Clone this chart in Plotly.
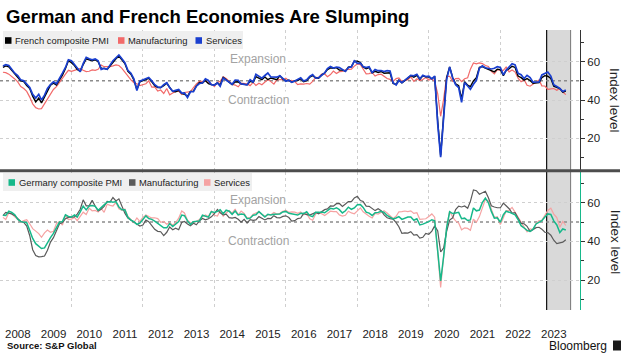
import pandas as pd
import plotly.graph_objects as go

# ---------------- data (monthly, Jan 2008 - Oct 2023) ----------------
dates = pd.date_range("2008-01-01", periods=190, freq="MS") + pd.offsets.MonthEnd(0)

france_composite = [
    57.0, 57.8, 57.3, 55.5, 53.5, 52.0, 50.0, 49.6, 47.5, 46.0, 42.0, 39.0,
    41.0, 38.5, 41.5, 45.0, 47.8, 48.8, 47.8, 50.5, 53.0, 56.5, 60.5, 59.5,
    58.0, 56.0, 55.0, 58.5, 61.5, 61.0, 60.5, 61.0, 60.0, 56.5, 56.5, 56.0,
    58.0, 60.0, 61.5, 63.0, 61.0, 59.0, 55.0, 53.5, 50.5, 45.5, 49.5, 50.0,
    50.5, 51.3, 49.5, 47.5, 46.5, 46.5, 47.5, 48.8, 46.5, 44.5, 44.3, 45.0,
    43.5, 43.0, 41.9, 44.5, 44.6, 47.4, 49.1, 48.9, 50.2, 48.5, 48.0, 47.9,
    48.9, 47.9, 51.8, 50.6, 49.3, 48.1, 49.4, 49.5, 48.4, 48.2, 47.9, 49.7,
    49.3, 52.2, 51.5, 50.6, 52.0, 50.6, 51.5, 51.2, 50.6, 52.6, 51.0, 50.1,
    50.3, 49.3, 50.0, 50.2, 51.1, 49.6, 50.1, 51.9, 52.7, 51.6, 51.4, 53.1,
    54.1, 55.9, 56.8, 56.6, 56.9, 55.6, 55.6, 55.1, 57.1, 57.4, 60.3, 60.3,
    59.6, 57.3, 56.3, 56.9, 54.2, 55.0, 54.4, 54.9, 54.0, 54.1, 54.2, 48.7,
    48.2, 50.4, 48.9, 50.1, 51.2, 52.7, 51.9, 52.9, 50.8, 52.6, 52.1, 52.0,
    51.1, 52.0, 28.9, 11.1, 32.1, 51.7, 57.3, 51.6, 48.5, 47.5, 40.6, 49.5,
    47.7, 47.0, 50.0, 51.6, 57.0, 57.4, 56.6, 55.9, 55.3, 54.7, 56.1, 55.8,
    52.7, 55.5, 56.3, 57.6, 57.0, 52.5, 51.7, 50.4, 51.2, 50.2, 48.7, 49.1,
    49.1, 51.7, 52.7, 52.4, 51.2, 47.2, 46.6, 46.0, 44.1, 44.6,
]
france_manufacturing = [
    54.5, 54.3, 53.5, 52.5, 51.0, 49.5, 47.0, 46.0, 44.5, 41.5, 38.0, 36.0,
    35.3, 35.5, 38.0, 41.0, 43.5, 45.5, 47.0, 49.0, 51.5, 53.5, 55.5, 55.0,
    55.5, 56.0, 56.5, 55.5, 54.8, 55.0, 55.7, 55.5, 56.0, 58.3, 57.4, 57.5,
    57.4, 57.8, 58.3, 58.0, 56.5, 54.5, 52.2, 50.5, 49.0, 48.5, 47.5, 48.0,
    48.5, 50.0, 46.7, 46.9, 44.7, 45.2, 43.4, 46.0, 42.7, 43.7, 44.5, 44.6,
    42.9, 43.9, 44.0, 44.4, 46.4, 48.4, 49.7, 49.7, 49.8, 49.1, 48.4, 47.0,
    49.3, 49.7, 52.1, 51.2, 49.6, 48.2, 47.8, 46.9, 48.8, 48.5, 48.4, 47.5,
    49.2, 47.6, 48.8, 48.0, 49.4, 50.7, 49.6, 48.3, 50.6, 50.6, 50.6, 51.4,
    50.0, 50.2, 49.6, 48.0, 48.4, 48.3, 48.6, 48.3, 49.7, 51.8, 51.7, 53.5,
    53.6, 52.2, 53.3, 55.1, 53.8, 54.8, 54.9, 55.8, 56.1, 56.1, 57.7, 58.8,
    58.4, 55.9, 53.7, 53.8, 54.4, 52.5, 53.3, 53.5, 52.5, 51.2, 50.8, 49.7,
    51.2, 51.5, 49.7, 50.0, 50.6, 52.0, 49.7, 51.1, 50.1, 50.7, 51.7, 50.4,
    51.1, 49.8, 43.2, 31.5, 40.6, 52.3, 52.4, 49.8, 51.2, 51.3, 49.6, 51.1,
    51.6, 56.1, 59.3, 58.9, 59.4, 59.0, 58.0, 57.5, 55.0, 53.6, 55.9, 55.6,
    55.5, 57.2, 54.7, 55.7, 54.6, 51.4, 49.5, 50.6, 47.7, 47.2, 48.3, 49.2,
    50.5, 47.4, 47.3, 45.6, 45.7, 46.0, 45.1, 46.0, 44.2, 42.8,
]
france_services = [
    57.8, 58.5, 58.0, 56.0, 54.0, 52.8, 50.5, 50.0, 48.0, 46.5, 43.0, 41.0,
    43.0, 40.0, 42.5, 46.0, 48.0, 49.5, 48.5, 51.0, 54.0, 57.0, 61.0, 60.5,
    58.5, 56.5, 54.8, 59.0, 62.3, 61.5, 61.0, 61.5, 60.5, 56.0, 56.5, 56.0,
    58.5, 60.5, 62.0, 63.5, 61.5, 59.5, 55.5, 54.0, 51.0, 45.0, 49.8, 50.5,
    51.0, 51.8, 50.0, 48.0, 46.8, 46.5, 48.0, 49.0, 46.5, 44.5, 45.0, 45.5,
    43.6, 43.7, 41.3, 44.3, 44.3, 47.2, 48.6, 48.9, 51.0, 50.2, 48.0, 47.8,
    48.9, 47.2, 51.5, 50.4, 49.1, 48.2, 50.4, 50.3, 48.4, 48.3, 47.9, 50.6,
    49.4, 53.4, 52.4, 51.4, 52.8, 54.1, 52.0, 51.9, 51.9, 52.7, 51.0, 49.8,
    50.3, 49.2, 49.9, 50.6, 51.6, 49.9, 50.5, 52.3, 53.3, 51.4, 51.6, 52.9,
    54.1, 56.4, 57.5, 56.7, 57.2, 56.9, 56.0, 54.9, 57.0, 57.3, 60.4, 59.1,
    59.2, 57.4, 56.9, 57.4, 54.3, 55.9, 55.3, 55.4, 54.8, 55.3, 55.1, 49.0,
    47.8, 50.2, 49.1, 50.5, 51.5, 52.9, 52.6, 53.4, 51.1, 52.9, 52.2, 52.4,
    51.0, 52.5, 27.4, 10.2, 31.1, 50.7, 57.3, 51.5, 48.0, 46.5, 38.8, 49.1,
    47.3, 45.6, 48.2, 50.3, 56.6, 57.8, 56.8, 56.3, 56.2, 56.6, 57.4, 57.0,
    53.1, 55.5, 57.4, 58.9, 58.3, 53.9, 53.2, 51.2, 52.9, 51.7, 49.3, 49.5,
    49.4, 53.1, 53.9, 54.6, 52.5, 48.0, 47.1, 46.0, 44.4, 45.2,
]
germany_composite = [
    53.5, 53.4, 55.6, 55.0, 53.8, 51.4, 50.2, 50.1, 49.7, 45.6, 41.5, 38.8,
    37.6, 36.3, 36.6, 39.6, 41.9, 44.1, 47.0, 50.0, 50.2, 53.7, 52.9, 52.6,
    53.7, 52.6, 55.3, 58.2, 56.3, 58.3, 58.5, 58.1, 56.1, 57.3, 58.9, 60.3,
    60.6, 60.3, 60.6, 57.8, 56.3, 56.3, 52.5, 51.0, 50.2, 48.8, 49.4, 51.3,
    53.2, 51.8, 51.4, 50.5, 49.3, 48.1, 47.0, 47.0, 49.2, 47.7, 49.2, 50.3,
    53.6, 53.3, 50.6, 48.8, 50.2, 50.4, 50.6, 53.5, 53.2, 52.5, 55.4, 55.0,
    55.5, 56.4, 54.3, 56.1, 55.6, 54.0, 55.7, 53.7, 54.1, 53.9, 51.7, 52.0,
    53.5, 53.8, 55.4, 54.1, 52.6, 54.0, 53.7, 54.0, 54.1, 54.2, 55.2, 55.5,
    54.5, 54.1, 54.0, 53.6, 54.5, 54.4, 55.3, 53.3, 52.8, 55.0, 55.0, 55.2,
    54.8, 56.1, 57.1, 56.7, 57.4, 56.4, 54.7, 55.8, 57.7, 56.6, 57.3, 58.9,
    59.0, 57.6, 55.1, 54.6, 53.4, 54.8, 55.0, 55.6, 55.0, 53.4, 52.3, 51.6,
    52.1, 52.8, 51.4, 52.2, 52.6, 52.6, 50.9, 51.7, 48.5, 48.9, 49.4, 50.2,
    51.2, 50.7, 35.0, 19.5, 32.3, 47.0, 55.3, 54.4, 54.7, 55.0, 51.7, 52.0,
    50.8, 51.1, 57.3, 55.8, 56.2, 60.1, 62.4, 60.0, 55.5, 52.0, 52.2, 49.9,
    53.8, 55.6, 55.1, 54.3, 53.7, 51.3, 48.1, 46.9, 45.7, 45.1, 46.3, 49.0,
    49.9, 50.7, 52.6, 54.2, 53.9, 50.6, 48.5, 44.6, 46.4, 45.9,
]
germany_manufacturing = [
    53.3, 55.0, 54.6, 54.2, 53.3, 51.6, 50.3, 49.8, 47.9, 42.9, 35.7, 32.7,
    32.0, 32.1, 32.4, 35.4, 39.6, 41.9, 46.0, 49.1, 49.6, 51.7, 52.4, 52.7,
    52.7, 54.1, 56.6, 61.5, 58.4, 58.4, 61.2, 58.2, 55.7, 56.6, 58.1, 60.7,
    60.5, 62.7, 60.9, 62.0, 57.7, 54.6, 52.0, 50.9, 50.3, 49.1, 47.9, 48.4,
    51.0, 50.2, 48.4, 46.2, 45.2, 45.0, 43.0, 44.7, 47.4, 46.0, 46.8, 46.0,
    49.8, 50.3, 49.0, 48.1, 49.4, 48.6, 50.7, 51.8, 51.1, 51.7, 52.7, 54.3,
    56.5, 54.8, 53.7, 54.1, 52.3, 52.0, 52.4, 51.4, 49.9, 51.4, 49.5, 51.2,
    50.9, 51.1, 52.8, 52.1, 51.1, 51.9, 51.8, 53.3, 52.3, 52.1, 52.9, 53.2,
    52.3, 50.5, 50.7, 51.8, 52.1, 54.5, 53.8, 53.6, 54.3, 55.0, 54.3, 55.6,
    56.4, 56.8, 58.3, 58.2, 59.5, 59.6, 58.1, 59.3, 60.6, 60.6, 62.5, 63.3,
    61.1, 60.6, 58.2, 58.1, 56.9, 55.9, 56.9, 55.9, 53.7, 52.2, 51.8, 51.5,
    49.7, 47.6, 44.1, 44.4, 44.3, 45.0, 43.2, 43.5, 41.7, 42.1, 44.1, 43.7,
    45.3, 48.0, 45.4, 34.5, 36.6, 45.2, 51.0, 52.2, 56.4, 58.2, 57.8, 58.3,
    57.1, 60.7, 66.6, 66.2, 64.4, 65.1, 65.9, 62.6, 58.4, 57.8, 57.4, 57.4,
    59.8, 58.4, 56.9, 54.6, 54.8, 52.0, 49.3, 49.1, 47.8, 45.1, 46.2, 47.1,
    47.3, 46.3, 44.7, 44.5, 43.2, 40.6, 38.8, 39.1, 39.6, 40.8,
]
germany_services = [
    52.4, 51.3, 54.8, 54.2, 52.7, 51.6, 50.0, 50.7, 51.2, 49.1, 46.6, 45.3,
    44.0, 42.1, 44.4, 45.9, 44.7, 45.2, 49.2, 50.2, 48.4, 53.7, 51.3, 51.5,
    52.4, 50.7, 52.7, 55.1, 53.9, 57.1, 55.8, 56.0, 55.2, 57.0, 55.0, 59.2,
    58.6, 58.3, 60.1, 56.8, 56.1, 56.7, 52.9, 51.1, 49.7, 52.1, 50.3, 52.4,
    53.7, 52.8, 52.1, 52.2, 51.8, 49.9, 50.3, 48.9, 49.7, 48.4, 49.7, 52.0,
    55.7, 54.7, 50.9, 49.6, 49.7, 50.4, 51.3, 52.8, 53.7, 52.9, 55.7, 53.5,
    53.1, 55.9, 53.0, 54.7, 56.0, 54.6, 56.7, 53.7, 55.7, 54.4, 52.1, 52.1,
    54.0, 54.7, 55.4, 54.0, 53.0, 53.7, 53.8, 54.9, 54.1, 54.5, 55.6, 56.0,
    55.0, 55.3, 55.1, 54.5, 55.2, 53.7, 54.4, 51.7, 50.9, 54.2, 55.1, 54.3,
    53.4, 54.4, 55.6, 55.4, 55.4, 53.7, 53.1, 53.5, 55.6, 54.7, 54.3, 55.8,
    57.3, 55.3, 53.9, 53.0, 52.1, 54.5, 54.1, 55.0, 55.9, 54.7, 53.3, 51.8,
    53.0, 55.3, 55.4, 55.7, 55.4, 55.8, 54.5, 54.8, 51.4, 51.6, 51.7, 52.9,
    54.2, 52.5, 31.7, 16.2, 32.6, 47.3, 55.6, 52.5, 50.6, 49.5, 46.0, 47.0,
    46.7, 45.7, 51.5, 49.9, 52.8, 57.5, 61.8, 60.8, 56.2, 52.4, 52.7, 48.7,
    52.2, 55.8, 56.1, 57.6, 55.0, 52.4, 49.7, 47.7, 45.0, 46.5, 46.1, 49.2,
    50.7, 50.9, 53.7, 56.0, 57.2, 54.1, 52.3, 47.3, 50.3, 48.2,
]

years = list(range(2008, 2024))
year_labels = [str(y) for y in years]
y_ticks = [20, 40, 60]
shade_start, shade_end = "2023-04-18", "2023-12-19"

# ---------------- styling helpers ----------------
W, H = 634, 358
FONT = "Liberation Sans, Arial, sans-serif"
def px(x):
    return x / W
def py(y):
    return 1 - y / H

X_DOMAIN = [0, px(580)]
X_RANGE = ["2008-01-01", "2024-03-24"]
TOP = [py(170), py(30)]
BOT = [py(310), py(172)]
GRID = "#cfcfcf"
TEAL = "#17b88a"

fig = go.Figure()
# top panel (France)
fig.add_trace(go.Scatter(x=dates, y=france_manufacturing, name="Manufacturing", mode="lines",
                         line=dict(color="#f26a6a", width=1.2), xaxis="x", yaxis="y"))
fig.add_trace(go.Scatter(x=dates, y=france_composite, name="French composite PMI", mode="lines",
                         line=dict(color="#000000", width=1.4), xaxis="x", yaxis="y"))
fig.add_trace(go.Scatter(x=dates, y=france_services, name="Services", mode="lines",
                         line=dict(color="#1a3fcf", width=1.7), xaxis="x", yaxis="y"))
# bottom panel (Germany)
fig.add_trace(go.Scatter(x=dates, y=germany_services, name="Services", mode="lines",
                         line=dict(color="#f5a3a3", width=1.2), xaxis="x2", yaxis="y2"))
fig.add_trace(go.Scatter(x=dates, y=germany_manufacturing, name="Manufacturing", mode="lines",
                         line=dict(color="#5a5a5a", width=1.2), xaxis="x2", yaxis="y2"))
fig.add_trace(go.Scatter(x=dates, y=germany_composite, name="Germany composite PMI", mode="lines",
                         line=dict(color=TEAL, width=1.5), xaxis="x2", yaxis="y2"))

grid_dates = [f"{y}-01-01" for y in range(2010, 2024, 2)]
label_dates = [f"{y}-07-01" for y in years]

xcommon = dict(domain=X_DOMAIN, range=X_RANGE, type="date", showgrid=False, zeroline=False,
               minor=dict(tickmode="array", tickvals=grid_dates, showgrid=True, gridcolor=GRID,
                          griddash="dot", gridwidth=1, ticks=""))
ycommon = dict(side="right", tickmode="array", tickvals=y_ticks, showgrid=True, gridcolor=GRID,
               griddash="dot", gridwidth=1, zeroline=False, ticks="outside", ticklen=4,
               tickcolor="#333", showline=True, linewidth=1,
               tickfont=dict(family=FONT, size=11.5, color="#222"),
               minor=dict(tickmode="array", tickvals=[10, 30, 50, 70], ticks="outside",
                          ticklen=3, tickcolor="#333", showgrid=False))

fig.update_layout(
    width=W, height=H, margin=dict(l=0, r=0, t=0, b=0),
    paper_bgcolor="white", plot_bgcolor="white", showlegend=False,
    font=dict(family=FONT, color="#222"),
    xaxis=dict(xcommon, anchor="y", showticklabels=False, ticks=""),
    xaxis2=dict(xcommon, anchor="y2", tickmode="array", tickvals=label_dates, ticktext=year_labels,
                ticks="outside", ticklen=13, tickcolor="rgba(0,0,0,0)",
                tickfont=dict(family=FONT, size=11.5, color="#222")),
    yaxis=dict(ycommon, domain=TOP, anchor="x", range=[3.45, 76.55], linecolor="#333"),
    yaxis2=dict(ycommon, domain=BOT, anchor="x2", range=[4.48, 75.89], linecolor=TEAL),
)

shapes = []
for xr, yr in (("x", "y"), ("x2", "y2")):
    shapes.append(dict(type="rect", xref=xr, yref=f"{yr} domain", x0=shade_start, x1=shade_end,
                       y0=0, y1=1, fillcolor="#d9d9d9", line=dict(width=0), layer="below"))
    shapes.append(dict(type="line", xref=xr, yref=f"{yr} domain", x0=shade_start, x1=shade_start,
                       y0=0, y1=1, line=dict(color="#111", width=1.2), layer="below"))
    shapes.append(dict(type="line", xref=xr, yref=f"{yr} domain", x0=shade_end, x1=shade_end,
                       y0=0, y1=1, line=dict(color="#777", width=1), layer="below"))
    shapes.append(dict(type="line", xref=f"{xr} domain", yref=yr, x0=0, x1=1, y0=50, y1=50,
                       line=dict(color="#8c8c8c", width=1.5, dash="dot"), layer="below"))
# panel separator
shapes.append(dict(type="line", xref="paper", yref="paper", x0=0, x1=px(620), y0=py(170.7), y1=py(170.7),
                   line=dict(color="#4d4d4d", width=3)))
# legend boxes
shapes.append(dict(type="rect", xref="paper", yref="paper", x0=px(3), x1=px(243), y0=py(49), y1=py(31),
                   fillcolor="#efefef", line=dict(width=0)))
shapes.append(dict(type="rect", xref="paper", yref="paper", x0=px(3), x1=px(252), y0=py(191), y1=py(173),
                   fillcolor="#efefef", line=dict(width=0)))

annotations = []
def legend_item(x_sq, y_c, color, label):
    shapes.append(dict(type="rect", xref="paper", yref="paper", x0=px(x_sq), x1=px(x_sq + 6.5),
                       y0=py(y_c + 3.3), y1=py(y_c - 3.3), fillcolor=color, line=dict(width=0)))
    annotations.append(dict(xref="paper", yref="paper", x=px(x_sq + 8), y=py(y_c), text=label,
                            showarrow=False, xanchor="left", yanchor="middle",
                            font=dict(family=FONT, size=9.4, color="#222")))

legend_item(5, 40.5, "#000000", "French composite PMI")
legend_item(118, 40.5, "#f26a6a", "Manufacturing")
legend_item(195.5, 40.5, "#1a3fcf", "Services")
legend_item(8.5, 182.5, TEAL, "Germany composite PMI")
legend_item(129, 182.5, "#5a5a5a", "Manufacturing")
legend_item(204, 182.5, "#f5a3a3", "Services")

for yr in ("y", "y2"):
    annotations.append(dict(xref="x", yref=yr, x="2015-03-25", y=61.3, text="Expansion", showarrow=False,
                            xanchor="center", yanchor="middle",
                            font=dict(family=FONT, size=12, color="#a3a3a3"), bgcolor="white"))
    annotations.append(dict(xref="x", yref=yr, x="2015-03-25", y=40, text="Contraction", showarrow=False,
                            xanchor="center", yanchor="middle",
                            font=dict(family=FONT, size=12, color="#a3a3a3"), bgcolor="white"))

for yc in (100, 241.7):
    annotations.append(dict(xref="paper", yref="paper", x=px(615), y=py(yc), text="Index level",
                            textangle=90, showarrow=False, xanchor="center", yanchor="middle",
                            font=dict(family=FONT, size=13.5, color="#222")))

annotations.append(dict(xref="paper", yref="paper", x=px(4), y=py(16.5), xanchor="left", yanchor="middle",
                        text="<b>German and French Economies Are Slumping</b>", showarrow=False,
                        font=dict(family=FONT, size=18.5, color="#000")))
annotations.append(dict(xref="paper", yref="paper", x=px(5), y=py(345.5), xanchor="left", yanchor="middle",
                        text="<b>Source: S&P Global</b>", showarrow=False,
                        font=dict(family=FONT, size=9.5, color="#111")))
annotations.append(dict(xref="paper", yref="paper", x=px(609), y=py(345.5), xanchor="right", yanchor="middle",
                        text="Bloomberg", showarrow=False,
                        font=dict(family=FONT, size=12, color="#111")))
shapes.append(dict(type="rect", xref="paper", yref="paper", x0=px(613), x1=px(621), y0=py(350.5), y1=py(340.5),
                   fillcolor="#1a1a1a", line=dict(width=0)))

fig.update_layout(shapes=shapes, annotations=annotations)
fig.write_html("out.html", config={"displayModeBar": False},
               post_script="document.body.style.margin='0';document.body.style.padding='0';"
                           "document.body.style.overflow='hidden';")
